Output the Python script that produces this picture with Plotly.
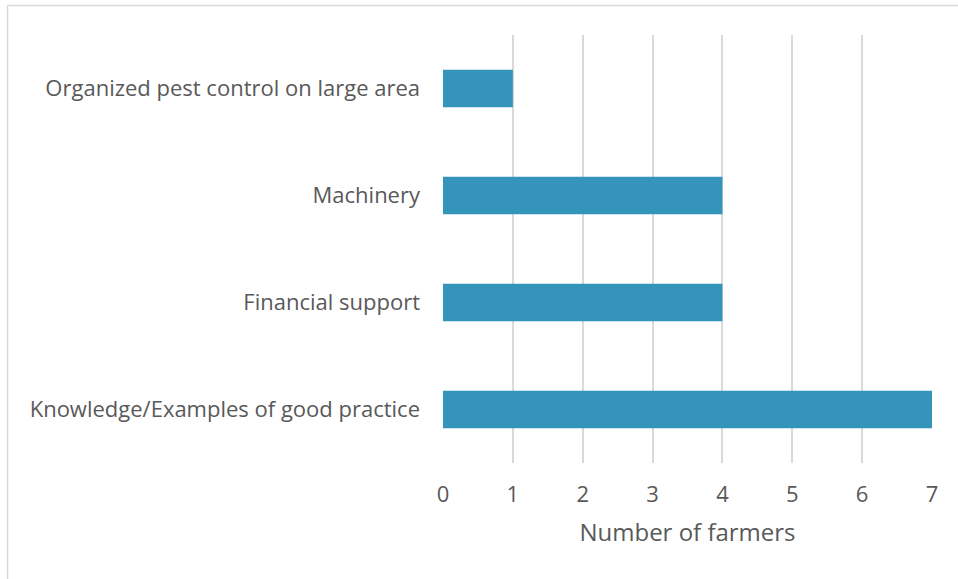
import plotly.graph_objects as go

categories = ["Knowledge/Examples of good practice", "Financial support", "Machinery",
              "Organized pest control on large area"]
values = [7, 4, 4, 1]
x_ticks = [0, 1, 2, 3, 4, 5, 6, 7]

W, H = 958, 579
L, R, T, B = 443, 26, 35, 116
pw, ph = W - L - R, H - T - B

fig = go.Figure(go.Bar(
    x=values, y=categories, orientation="h",
    marker=dict(color="#3494BA", line=dict(width=0)),
))

font = "Open Sans, Lato, sans-serif"
fig.update_layout(
    width=W, height=H,
    margin=dict(l=L, r=R, t=T, b=B, pad=0),
    paper_bgcolor="white", plot_bgcolor="white",
    bargap=0.65,
    showlegend=False,
    font=dict(family=font, color="#595959", size=22),
    xaxis=dict(
        range=[0, 7], tickvals=x_ticks, showgrid=True, gridcolor="#D9D9D9", gridwidth=2,
        zeroline=False, showline=False, ticks="", ticklabelstandoff=16,
        tickfont=dict(size=22, color="#595959"),
        title=dict(text="Number of farmers", font=dict(size=24, color="#595959"), standoff=17),
    ),
    yaxis=dict(
        showgrid=False, zeroline=False, showline=False, ticks="", ticklabelstandoff=22,
        tickfont=dict(size=22, color="#595959"),
    ),
    shapes=[dict(type="rect", xref="paper", yref="paper",
                 x0=(7.5 - L) / pw, x1=2, y0=-2, y1=(H - B - 5.5) / ph,
                 line=dict(color="#D9D9D9", width=1.5), fillcolor="rgba(0,0,0,0)", layer="below")],
)

fig.write_html("out.html", config={"displayModeBar": False},
               post_script="document.body.style.margin='0';document.body.style.overflow='hidden';")
